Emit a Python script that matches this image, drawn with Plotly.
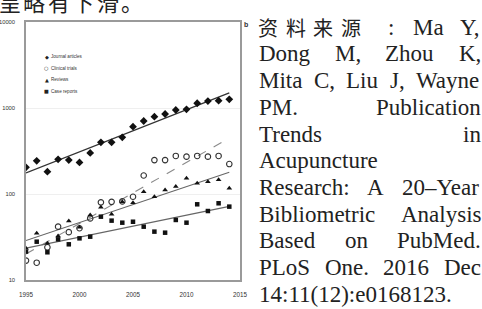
import numpy as np
import plotly.graph_objects as go

# ---------------- data ----------------
years = list(range(1995, 2015))
journal_articles = [204, 243, 182, 253, 248, 233, 300, 399, 399, 456,
                    607, 706, 793, 852, 948, 966, 1135, 1205, 1216, 1260]
clinical_trials = [16.8, 15.9, 24, 41.7, 36, 40, 52, 80, 81, 82,
                   93, 164, 248, 248, 277, 272, 277, 272, 277, 223]
reviews = [23.4, 35, 26.7, 32.5, 48.6, 41, 57, 70, 58, 81.5,
           79, 106, 93, 111, 122, 152, 133, 139, 146, 117]
case_reports = [21.4, 27.9, 21, 29.7, 26, 30.5, 31.9, 54.5, 49, 46.4,
                47.6, 41.7, 36.5, 35.5, 49.9, 46.4, 75.9, 63.4, 78, 71.3]
series_names = ["Journal articles", "Clinical trials", "Reviews", "Case reports"]
legend_glyphs = ["◆", "○", "▲", "■"]
x_ticks = [1995, 2000, 2005, 2010, 2015]
y_ticks = [10, 100, 1000, 10000]
y_tick_text = ["10", "100", "1000", "10000"]

top_text = "呈略有下滑。"
cjk_lead = ["资", "料", "来", "源"]
text_lines = [
    ["Ma", "Y,"],
    ["Dong", "M,", "Zhou", "K,"],
    ["Mita", "C,", "Liu", "J,", "Wayne"],
    ["PM.", "Publication"],
    ["Trends", "in"],
    ["Acupuncture"],
    ["Research:", "A", "20–Year"],
    ["Bibliometric", "Analysis"],
    ["Based", "on", "PubMed."],
    ["PLoS", "One.", "2016", "Dec"],
    ["14:11(12):e0168123."],
]

# ---------------- geometry ----------------
W, H = 482, 309
PL, PR, PT, PB = 26, 240, 22, 280          # plot area in pixels


def px(x):
    return (x - PL) / (PR - PL)


def py(y):
    return (PB - y) / (PB - PT)


fig = go.Figure()

styles = [
    dict(symbol="diamond", size=6, color="#111", line=dict(width=0)),
    dict(symbol="circle-open", size=5.5, color="#333", line=dict(width=1.1)),
    dict(symbol="triangle-up", size=5, color="#111", line=dict(width=0)),
    dict(symbol="square", size=4.5, color="#111", line=dict(width=0)),
]
trend_styles = [
    dict(color="#333", width=1.3),
    dict(color="#8a8a8a", width=1.1, dash="dash"),
    dict(color="#666", width=1.1),
    dict(color="#666", width=1.1),
]
all_series = [journal_articles, clinical_trials, reviews, case_reports]

yrs = np.array(years, dtype=float)
for name, vals, ms, ls in zip(series_names, all_series, styles, trend_styles):
    slope, icpt = np.polyfit(yrs, np.log10(np.array(vals, dtype=float)), 1)
    xe = np.array([yrs[0], yrs[-1]])
    fig.add_trace(go.Scatter(x=xe, y=10 ** (icpt + slope * xe), mode="lines",
                             line=ls, showlegend=False, hoverinfo="skip"))
for name, vals, ms in zip(series_names, all_series, styles):
    fig.add_trace(go.Scatter(x=years, y=vals, mode="markers", name=name,
                             marker=ms, showlegend=False))

annotations = []

# legend drawn as text
for i, (g, n) in enumerate(zip(legend_glyphs, series_names)):
    yc = 56.5 + i * 11.6
    annotations.append(dict(x=px(46.5), y=py(yc), text=g, xanchor="center", yanchor="middle",
                            font=dict(size=5, color="#222", family="DejaVu Sans")))
    annotations.append(dict(x=px(49.5), y=py(yc), text=n, xanchor="left", yanchor="middle",
                            font=dict(size=4.6, color="#333", family="Liberation Sans")))

# panel label
annotations.append(dict(x=px(245.5), y=py(24.5), text="<b>b</b>", xanchor="center", yanchor="middle",
                        font=dict(size=7, color="#333", family="Liberation Sans")))

# partial line of text at the very top (cut by page edge, as in the source page)
for i, ch in enumerate(top_text):
    annotations.append(dict(x=px(10 + i * 24.4), y=py(1.2), text=ch, xanchor="center", yanchor="middle",
                            font=dict(size=22, color="#222", family="Noto Sans CJK SC")))

# justified reference text
TNR = {' ': 250, ',': 250, '.': 250, ':': 278, '(': 333, ')': 333, '–': 500,
       'A': 722, 'B': 667, 'C': 667, 'D': 722, 'J': 389, 'K': 722, 'L': 611, 'M': 889,
       'O': 722, 'P': 556, 'R': 667, 'S': 556, 'T': 611, 'W': 944, 'Y': 722, 'Z': 611,
       'a': 444, 'b': 500, 'c': 444, 'd': 500, 'e': 444, 'f': 333, 'g': 500, 'h': 500,
       'i': 278, 'j': 278, 'k': 500, 'l': 278, 'm': 778, 'n': 500, 'o': 500, 'p': 500,
       'q': 500, 'r': 333, 's': 389, 't': 278, 'u': 500, 'v': 500, 'w': 722, 'x': 500,
       'y': 500, 'z': 444}
FS = 23
TX0, TX1 = 258, 480
BASE0, LEAD = 35, 26.7
tfont = dict(size=FS, color="#222", family="Liberation Serif")


def wid(s):
    return sum(TNR.get(c, 500) for c in s) / 1000 * FS


for li, words in enumerate(text_lines):
    base = BASE0 + li * LEAD
    ymid = base - 0.3375 * FS
    if li == 0:
        for k, ch in enumerate(cjk_lead):
            annotations.append(dict(x=px(268 + k * 27.7), y=py(ymid + 0.3), text=ch,
                                    xanchor="center", yanchor="middle",
                                    font=dict(size=20, color="#222", family="Noto Sans CJK SC")))
        annotations.append(dict(x=px(390.5), y=py(ymid), text=":", xanchor="center", yanchor="middle",
                                font=dict(size=FS, color="#222", family="Liberation Serif")))
        annotations.append(dict(x=px(412), y=py(ymid), text=words[0], xanchor="left", yanchor="middle", font=tfont))
        annotations.append(dict(x=px(TX1), y=py(ymid), text=words[1], xanchor="right", yanchor="middle", font=tfont))
        continue
    if len(words) == 1:
        annotations.append(dict(x=px(TX0), y=py(ymid), text=words[0], xanchor="left", yanchor="middle", font=tfont))
        continue
    ws = [wid(w) for w in words]
    gap = (TX1 - TX0 - sum(ws)) / (len(words) - 1)
    xcur = TX0
    for w, wd in zip(words, ws):
        annotations.append(dict(x=px(xcur), y=py(ymid), text=w, xanchor="left", yanchor="middle", font=tfont))
        xcur += wd + gap

for a in annotations:
    a.update(xref="paper", yref="paper", showarrow=False, borderpad=0)

xtickfont = dict(size=6.3, color="#333", family="Liberation Sans Narrow, Liberation Sans")
ytickfont = dict(size=5.8, color="#333", family="Liberation Sans Narrow, Liberation Sans")
fig.update_layout(
    width=W, height=H,
    margin=dict(l=PL, r=W - PR, t=PT, b=H - PB, pad=0, autoexpand=False),
    paper_bgcolor="white", plot_bgcolor="white",
    showlegend=False,
    annotations=annotations,
    xaxis=dict(range=[1995, 2015], tickvals=x_ticks, ticks="", ticklabelstandoff=8,
               automargin=False,
               showgrid=False, zeroline=False, showline=True, linecolor="#9a9a9a",
               linewidth=1.5, mirror=True, tickfont=xtickfont),
    yaxis=dict(type="log", range=[1, 4], tickvals=y_ticks, ticktext=y_tick_text, ticks="",
               automargin=False,
               ticklabelstandoff=8, showgrid=True, gridcolor="#efefef", gridwidth=1,
               zeroline=False, showline=True, linecolor="#9a9a9a", linewidth=1.5,
               mirror=True, tickfont=ytickfont),
)

fig.write_html("out.html", config={"displayModeBar": False},
               post_script="document.body.style.margin='0';document.body.style.padding='0';")
